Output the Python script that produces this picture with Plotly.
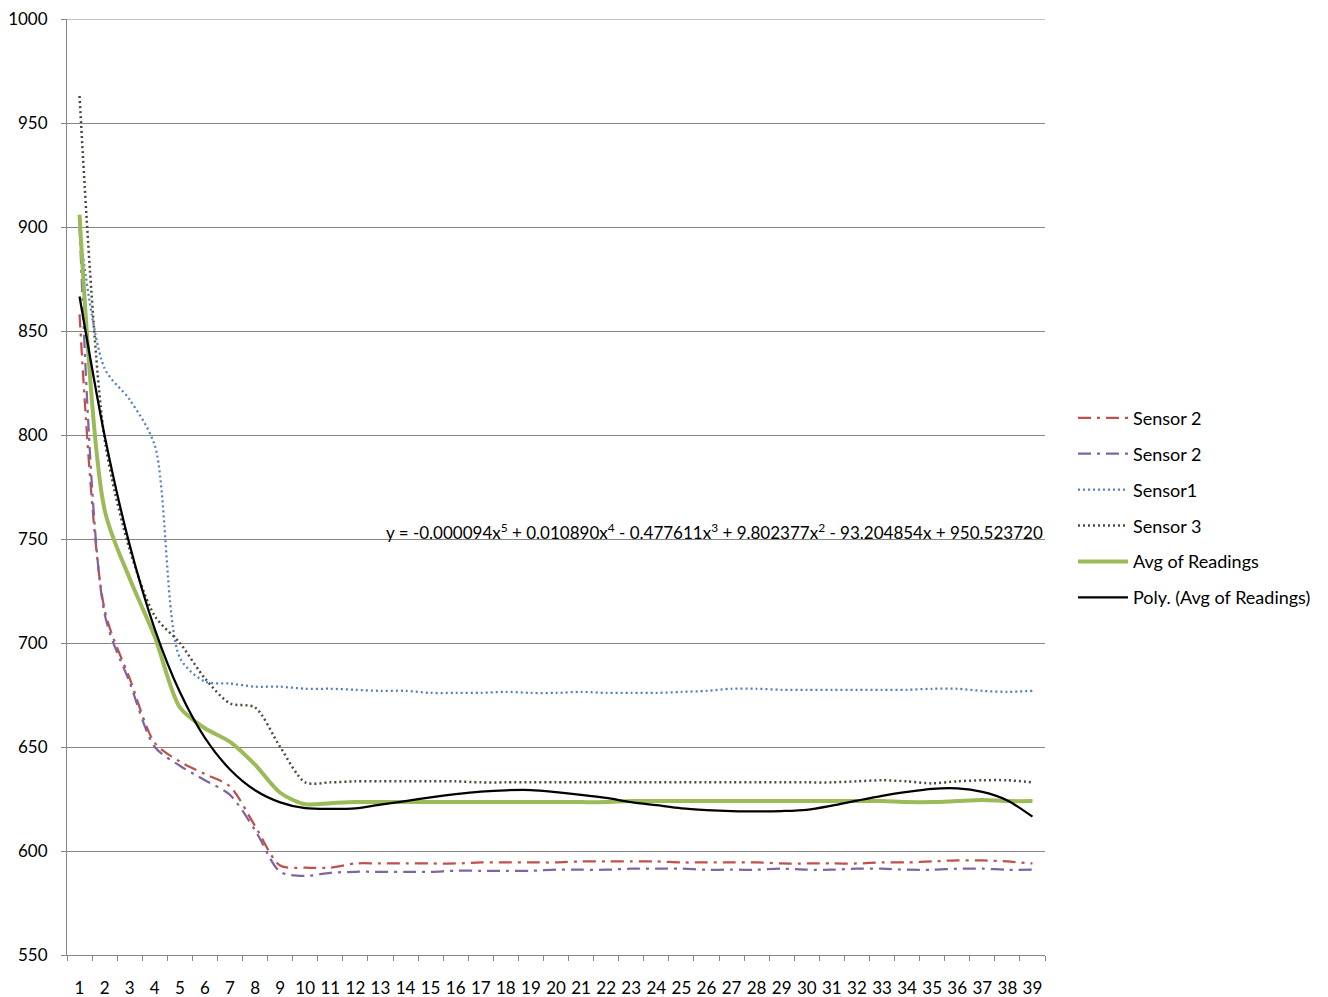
import plotly.graph_objects as go

categories = list(range(1, 40))
y_ticks = [550, 600, 650, 700, 750, 800, 850, 900, 950, 1000]

sensor2_red = [858, 716, 683, 652, 643, 637, 631, 612, 593, 592, 592, 594, 594, 594, 594, 594,
               594.5, 594.5, 594.5, 594.5, 595, 595, 595, 595, 594.5, 594.5, 594.5, 594.5, 594,
               594, 594, 594, 594.5, 594.5, 595, 595.5, 595.5, 595, 594]
sensor2_purple = [902, 714, 681, 650, 641, 634, 627, 610, 590, 588, 589.5, 590, 590, 590, 590,
                  590.5, 590.5, 590.5, 590.5, 591, 591, 591, 591.5, 591.5, 591.5, 591, 591, 591,
                  591.5, 591, 591, 591.5, 591.5, 591, 591, 591.5, 591.5, 591, 591]
sensor1 = [899, 832, 817, 795, 693, 681.5, 680.5, 679, 679, 678, 678, 677.5, 677, 677, 676, 676,
           676, 676.5, 676, 676, 676.5, 676, 676, 676, 676.5, 677, 678, 678, 677.5, 677.5, 677.5,
           677.5, 677.5, 677.5, 678, 678, 677, 676.5, 677]
sensor3 = [963, 798, 745, 713, 700, 683, 671, 669, 650, 633, 633, 633.5, 633.5, 633.5, 633.5,
           633.5, 633, 633, 633, 633, 633, 633, 633, 633, 633, 633, 633, 633, 633, 633, 633,
           633.5, 634, 633.5, 632.5, 633.5, 634, 634, 633]
avg_readings = [906, 764, 731, 703, 669, 659, 652.5, 641.5, 628, 622.5, 623, 623.5, 623.5, 623.5,
                623.5, 623.5, 623.5, 623.5, 623.5, 623.5, 623.5, 623.5, 624, 624, 624, 624, 624,
                624, 624, 624, 624, 624, 624, 623.5, 623.5, 624, 624.5, 624, 624]
poly_trend = [866.6, 799.7, 747.1, 706.7, 676.4, 654.4, 639.2, 629.2, 623.4, 620.6, 620.2, 620.5,
              622.3, 624, 625.8, 627.3, 628.5, 629.2, 629.3, 628.3, 627, 625.5, 623.5, 622, 620.5,
              619.7, 619.2, 619, 619.2, 619.8, 621.8, 624.2, 626.5, 628.4, 629.9, 630.1, 628.4,
              624.3, 616.5]

equation_text = ("y = -0.000094x<sup>5</sup> + 0.010890x<sup>4</sup> - 0.477611x<sup>3</sup> + "
                 "9.802377x<sup>2</sup> - 93.204854x + 950.523720")

FONT = "Lato, 'Liberation Sans', sans-serif"
FS = 17
GRID = "#868686"

series = [
    ("Sensor 2", sensor2_red, dict(color="#C0504D", width=2.25, dash="13px,6px,3px,6px")),
    ("Sensor 2", sensor2_purple, dict(color="#8064A2", width=2.25, dash="13px,6px,3px,6px")),
    ("Sensor1", sensor1, dict(color="#4F81BD", width=2.25, dash="2px,3px")),
    ("Sensor 3", sensor3, dict(color="#4A4A3A", width=2.5, dash="2px,3px")),
    ("Avg of Readings", avg_readings, dict(color="#9BBB59", width=4)),
    ("Poly. (Avg of Readings)", poly_trend, dict(color="#000000", width=2.25)),
]

fig = go.Figure()
for i, (name, vals, line) in enumerate(series):
    line = dict(line, shape="spline", smoothing=0.8)
    fig.add_trace(go.Scatter(x=categories, y=vals, mode="lines", name=name,
                             line=line, legendgroup=f"g{i}"))

fig.add_annotation(x=1, xref="paper", xanchor="right", y=750, yref="y", yanchor="bottom",
                   text=equation_text, showarrow=False,
                   font=dict(family=FONT, size=FS, color="#000000"), yshift=-6)

# top gridline at the axis maximum
fig.add_shape(type="line", xref="paper", x0=0, x1=1, yref="y", y0=y_ticks[-1], y1=y_ticks[-1],
              line=dict(color=GRID, width=1), layer="below")

fig.update_layout(
    width=1320, height=989,
    margin=dict(l=59, r=283, t=11, b=42),
    plot_bgcolor="white", paper_bgcolor="white",
    font=dict(family=FONT, size=FS, color="#000000"),
    showlegend=True,
    legend=dict(x=1.0286, xanchor="left", y=0.478, yanchor="middle",
                tracegroupgap=9.5, itemwidth=50,
                font=dict(family=FONT, size=FS + 1, color="#000000"),
                bgcolor="rgba(0,0,0,0)"),
    xaxis=dict(type="category", tickmode="array", tickvals=categories,
               ticktext=[str(c) for c in categories], tickangle=0, automargin=False,
               tickson="boundaries", ticks="outside", ticklen=5, tickcolor=GRID,
               showline=True, linecolor=GRID, linewidth=1, showgrid=False,
               ticklabelstandoff=18, range=[-0.5, 38.5], zeroline=False,
               ticklabeloverflow="allow",
               tickfont=dict(family=FONT, size=FS, color="#000000")),
    yaxis=dict(range=[550, 1000], tickmode="array", tickvals=y_ticks,
               ticktext=[str(v) for v in y_ticks], ticks="outside", ticklen=5,
               tickcolor=GRID, showline=True, linecolor=GRID, linewidth=1,
               showgrid=True, gridcolor=GRID, gridwidth=1, zeroline=False,
               ticklabelstandoff=10, automargin=False, ticklabeloverflow="allow",
               tickfont=dict(family=FONT, size=FS, color="#000000")),
)

fig.write_html("out.html")
